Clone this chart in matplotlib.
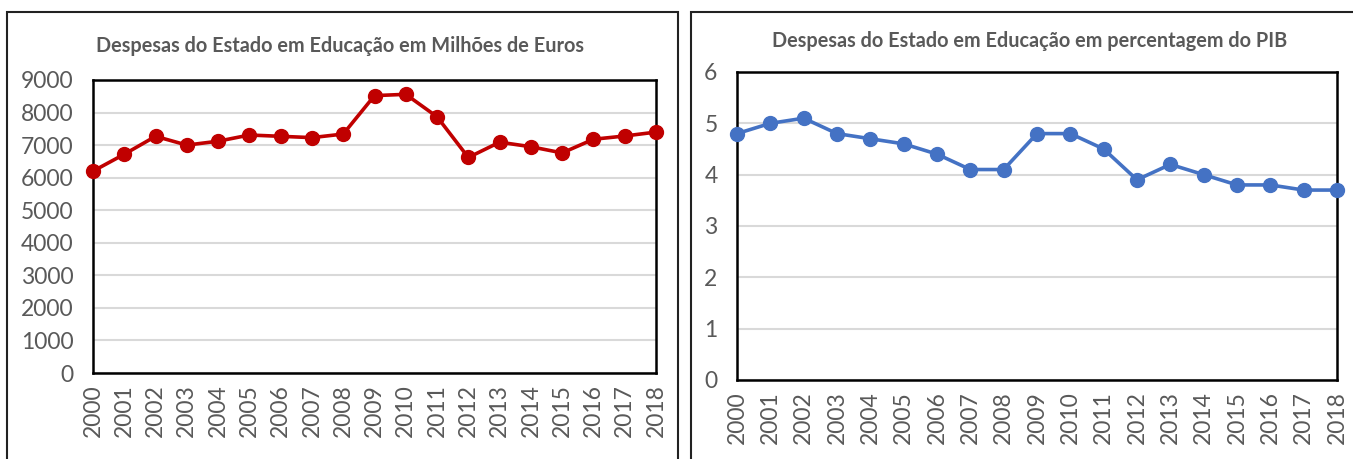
import matplotlib.pyplot as plt
from matplotlib.patches import Rectangle

anos = [str(a) for a in range(2000, 2019)]
euros = [6200, 6720, 7270, 7000, 7120, 7310, 7270, 7230, 7340, 8520,
         8560, 7870, 6620, 7090, 6950, 6760, 7180, 7280, 7400]
pib = [4.8, 5.0, 5.1, 4.8, 4.7, 4.6, 4.4, 4.1, 4.1, 4.8,
       4.8, 4.5, 3.9, 4.2, 4.0, 3.8, 3.8, 3.7, 3.7]

W, H = 1353, 459
plt.rcParams['font.family'] = ['Lato', 'DejaVu Sans']
fig = plt.figure(figsize=(W / 100, H / 100), dpi=100)
cinza = '#595959'


def fx(p):
    return p / W


def fy(p):
    return 1 - p / H


# molduras dos dois graficos
for x0, x1 in [(7, 678), (691, 1360)]:
    fig.patches.append(Rectangle((fx(x0), fy(470)), fx(x1 - x0), (470 - 12) / H,
                                 transform=fig.transFigure, fill=False,
                                 edgecolor='#222222', lw=1.5))


def painel(box, x, y, cor, yticks, titulo, tx, ty):
    l, r, t, b = box
    ax = fig.add_axes([fx(l), fy(b), fx(r - l), (b - t) / H])
    ax.plot(range(len(x)), y, color=cor, lw=2.6, marker='o', ms=10, clip_on=False, zorder=3)
    ax.set_xlim(0, len(x) - 1)
    ax.set_ylim(yticks[0], yticks[-1])
    ax.set_yticks(yticks)
    ax.set_xticks(range(len(x)))
    ax.set_xticklabels(x, rotation=90)
    ax.tick_params(length=0, labelsize=16.5, colors=cinza)
    ax.tick_params(axis='y', pad=14)
    ax.tick_params(axis='x', pad=8)
    ax.grid(axis='y', color='#d9d9d9', lw=1.5)
    ax.set_axisbelow(True)
    for s in ax.spines.values():
        s.set_linewidth(1.8)
        s.set_color('black')
    fig.text(fx(tx), fy(ty), titulo, ha='center', va='center', fontsize=14.3,
             fontweight='bold', color=cinza)
    return ax


painel((93, 656, 80, 373), anos, euros, '#C00000',
       list(range(0, 9001, 1000)),
       'Despesas do Estado em Educação em Milhões de Euros', 340, 46)
painel((737, 1337, 72, 380), anos, pib, '#4472C4',
       list(range(0, 7)),
       'Despesas do Estado em Educação em percentagem do PIB', 1030, 41)

fig.savefig('out.png', dpi=100)
